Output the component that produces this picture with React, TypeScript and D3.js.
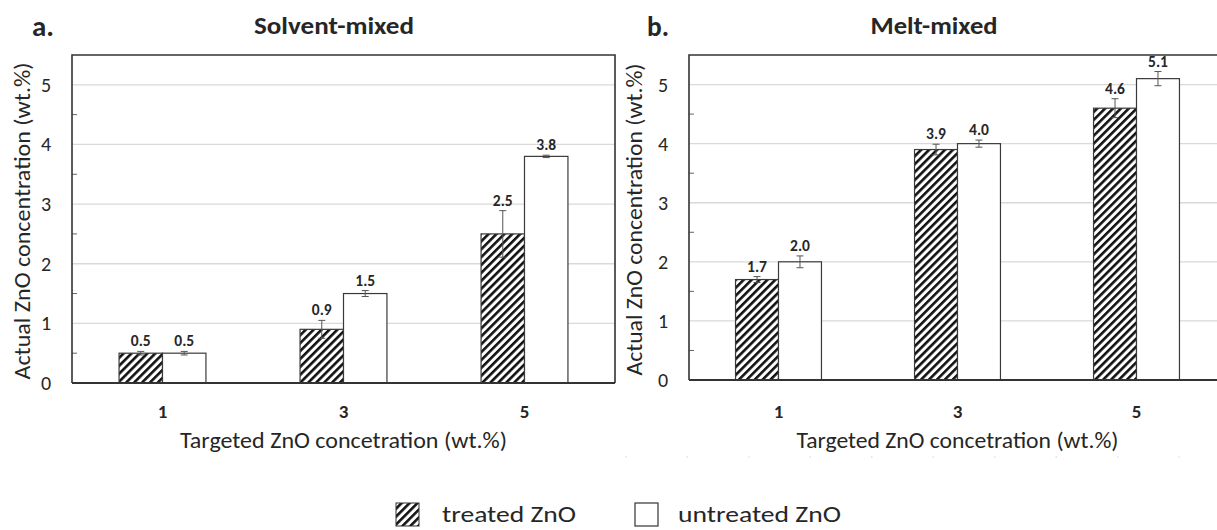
import React from 'react'
import * as d3 from 'd3'

// targeted concentration (wt.%)
const categories = [1, 3, 5]
const yTicks = [0, 1, 2, 3, 4, 5]

// a. solvent-mixed
const solventTreated = [0.5, 0.9, 2.5]
const solventTreatedErr = [0.03, 0.15, 0.39]
const solventUntreated = [0.5, 1.5, 3.8]
const solventUntreatedErr = [0.03, 0.05, 0.02]

// b. melt-mixed
const meltTreated = [1.7, 3.9, 4.6]
const meltTreatedErr = [0.05, 0.09, 0.16]
const meltUntreated = [2.0, 4.0, 5.1]
const meltUntreatedErr = [0.1, 0.06, 0.12]

const seriesNames = ['treated ZnO', 'untreated ZnO']

const FONT = 'Carlito, Lato, "Open Sans", sans-serif'
const INK = '#262626'

const fmt = d3.format('.1f')

function Panel({ letter, title, left, right, top, bottom, treated, treatedErr, untreated, untreatedErr,
  letterX, titleX, titleW, xTitleW, yLabelX, yLabelW, tickX, showRight }) {
  const x = d3.scaleLinear().domain([0, 6]).range([left, right])
  const y = d3.scaleLinear().domain([0, 5.5]).range([bottom, top])
  const bw = x(0.48) - x(0)
  const minor = d3.range(0.5, 5.5, 1)
  const clipRight = Math.min(right, 1217)

  const bars = categories.flatMap((c, i) => [
    { key: 't' + c, x0: x(c) - bw, v: treated[i], e: treatedErr[i], fill: 'url(#hatch)' },
    { key: 'u' + c, x0: x(c), v: untreated[i], e: untreatedErr[i], fill: '#fff' },
  ])

  return (
    <g fontFamily={FONT} fill={INK}>
      <text x={letterX} y={36} fontSize={28} fontWeight={700} textLength={22} lengthAdjust="spacingAndGlyphs">{letter}</text>
      <text x={titleX} y={34} fontSize={24} fontWeight={700} textAnchor="middle" textLength={titleW} lengthAdjust="spacingAndGlyphs">{title}</text>

      {yTicks.filter(t => t > 0).map(t => (
        <line key={'g' + t} x1={left} x2={clipRight} y1={y(t)} y2={y(t)} stroke="#d9d9d9" strokeWidth={1.3} />
      ))}
      {minor.map(t => (
        <line key={'m' + t} x1={left} x2={left + 5} y1={y(t)} y2={y(t)} stroke="#666" strokeWidth={1} />
      ))}

      {bars.map(b => (
        <rect key={b.key} x={b.x0} y={y(b.v)} width={bw} height={y(0) - y(b.v)} fill={b.fill} stroke="#3a3a3a" strokeWidth={1.2} />
      ))}
      {bars.map(b => {
        const cx = b.x0 + bw / 2
        return (
          <g key={'e' + b.key} stroke="#555" strokeWidth={1}>
            <line x1={cx} x2={cx} y1={y(b.v + b.e)} y2={y(b.v - b.e)} />
            <line x1={cx - 3.5} x2={cx + 3.5} y1={y(b.v + b.e)} y2={y(b.v + b.e)} />
            <line x1={cx - 3.5} x2={cx + 3.5} y1={y(b.v - b.e)} y2={y(b.v - b.e)} />
          </g>
        )
      })}
      {bars.map(b => (
        <text key={'v' + b.key} x={b.x0 + bw / 2} y={y(b.v + b.e) - 5} fontSize={15.5} fontWeight={700} textAnchor="middle">{fmt(b.v)}</text>
      ))}

      {/* frame */}
      <path d={`M${left},${bottom} V${top} H${clipRight}` + (showRight ? ` V${bottom}` : '')} fill="none" stroke="#333" strokeWidth={1.6} />
      <line x1={left} x2={clipRight} y1={bottom} y2={bottom} stroke="#333" strokeWidth={2.2} />

      {yTicks.map(t => (
        <text key={'yt' + t} x={tickX} y={y(t) + 7} fontSize={20} textAnchor="middle">{t}</text>
      ))}
      {categories.map(c => (
        <text key={'xt' + c} x={x(c)} y={418} fontSize={19} fontWeight={700} textAnchor="middle">{c}</text>
      ))}
      <text x={x(3)} y={448} fontSize={22} textAnchor="middle" textLength={xTitleW} lengthAdjust="spacingAndGlyphs">Targeted ZnO concetration (wt.%)</text>
      <text transform={`translate(${yLabelX}, ${(top + bottom) / 2 + 2}) rotate(-90)`} fontSize={22} textAnchor="middle" dy="0.35em"
        textLength={yLabelW} lengthAdjust="spacingAndGlyphs">Actual ZnO concentration (wt.%)</text>
    </g>
  )
}

export default function App() {
  return (
    <svg width={1217} height={530} style={{ position: 'absolute', left: 0, top: 0, background: '#fff' }}>
      <defs>
        <pattern id="hatch" patternUnits="userSpaceOnUse" width={5.6} height={5.6} patternTransform="rotate(45)">
          <rect width={5.6} height={5.6} fill="#fff" />
          <rect width={2.6} height={5.6} fill="#111" />
        </pattern>
      </defs>
      <rect width={1217} height={530} fill="#fff" />

      <Panel letter="a." title="Solvent-mixed" left={72} right={615} top={55} bottom={383}
        treated={solventTreated} treatedErr={solventTreatedErr} untreated={solventUntreated} untreatedErr={solventUntreatedErr}
        letterX={32} titleX={334} titleW={160} xTitleW={327} yLabelX={22} yLabelW={317} tickX={46} showRight={true} />
      <Panel letter="b." title="Melt-mixed" left={689} right={1226} top={55} bottom={380}
        treated={meltTreated} treatedErr={meltTreatedErr} untreated={meltUntreated} untreatedErr={meltUntreatedErr}
        letterX={647} titleX={934} titleW={127} xTitleW={322} yLabelX={634} yLabelW={312} tickX={663} showRight={false} />

      <line x1={625} x2={1217} y1={457} y2={457} stroke="#d0d0d0" strokeWidth={1} strokeDasharray="1.5 60" />

      {/* legend */}
      <g fontFamily={FONT} fill={INK} fontSize={23}>
        <rect x={396} y={503} width={23} height={23} fill="url(#hatch)" stroke="#333" strokeWidth={1} />
        <text x={442} y={522} textLength={134} lengthAdjust="spacingAndGlyphs">{seriesNames[0]}</text>
        <rect x={635} y={503} width={23} height={23} fill="#fff" stroke="#333" strokeWidth={1.2} />
        <text x={678} y={522} textLength={163} lengthAdjust="spacingAndGlyphs">{seriesNames[1]}</text>
      </g>
    </svg>
  )
}
